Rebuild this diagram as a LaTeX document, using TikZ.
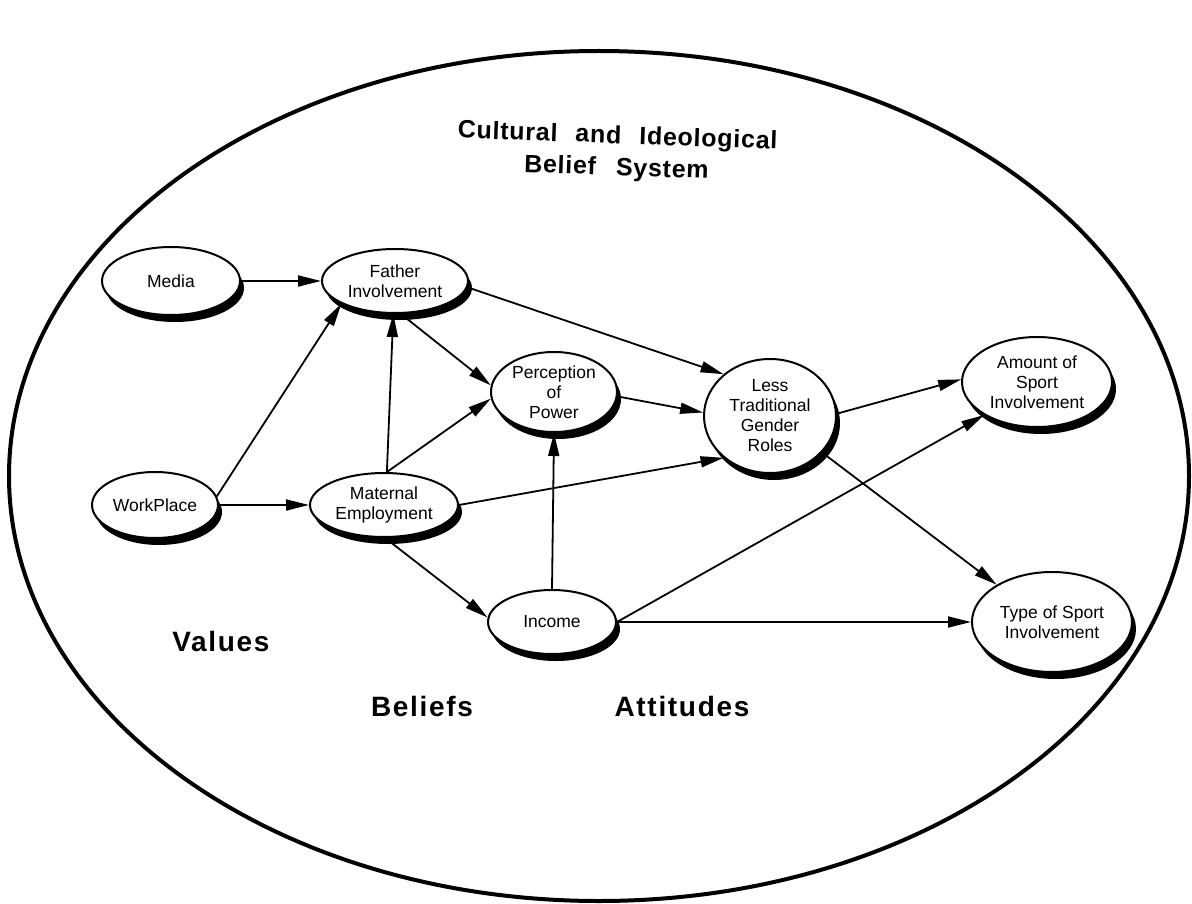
\documentclass[tikz,border=0pt]{standalone}
\usepackage{fontspec}
\setmainfont{Liberation Sans}
\newfontfamily\spacedfont{Liberation Sans}[LetterSpace=6]
\newfontfamily\titlefont{Liberation Sans}[LetterSpace=3]
\usetikzlibrary{shapes.geometric,arrows.meta,shadows}
\begin{document}
\begin{tikzpicture}[x=1pt,y=-1pt,
  nd/.style={ellipse,draw,line width=2pt,fill=white,inner sep=0pt,align=center,
    font=\fontsize{17.5}{20}\selectfont,
    drop shadow={shadow xshift=4pt,shadow yshift=-7pt,fill=black,opacity=1}},
  conn/.style={line width=1.8pt,-{Triangle[length=23pt,width=11pt]}},
  bigl/.style={font=\spacedfont\bfseries\fontsize{28}{32}\selectfont},
  titl/.style={font=\titlefont\bfseries\fontsize{25}{32}\selectfont,align=center},
]
\useasboundingbox (0,0) rectangle (1192,904);
\draw[line width=4pt] (599,476) ellipse [x radius=590pt, y radius=425pt];

\node[titl,rotate=-2] (title) at (617,153) {Cultural\hspace{18pt}and\hspace{18pt}Ideological\\Belief\hspace{20pt}System};

\node[nd,minimum width=138pt,minimum height=68pt] (med) at (171,281) {Media};
\node[nd,minimum width=146pt,minimum height=64pt] (fat) at (395,281) {Father\\Involvement};
\node[nd,minimum width=126pt,minimum height=80pt] (per) at (554,392) {Perception\\of\\Power};
\node[nd,minimum width=132pt,minimum height=114pt] (les) at (770,416) {Less\\Traditional\\Gender\\Roles};
\node[nd,minimum width=150pt,minimum height=90pt] (amt) at (1037,382) {Amount of\\Sport\\Involvement};
\node[nd,minimum width=126pt,minimum height=66pt] (wrk) at (155,505) {WorkPlace};
\node[nd,minimum width=148pt,minimum height=64pt] (mat) at (384,505) {Maternal\\Employment};
\node[nd,minimum width=128pt,minimum height=64pt] (inc) at (552,622) {Income};
\node[nd,minimum width=160pt,minimum height=100pt] (typ) at (1052,622) {Type of Sport\\Involvement};

\node[bigl] (val) at (221,641) {Values};
\node[bigl] (bel) at (422,706) {Beliefs};
\node[bigl] (att) at (682,706) {Attitudes};

\draw[conn] (med.east) -- (fat.west);
\draw[conn] (wrk.8) -- (fat.-157);
\draw[conn] (wrk.east) -- (mat.west);
\draw[conn] (mat.85) -- (fat.-93);
\draw[conn] (mat.85) -- (per.186);
\draw[conn] (fat.-80) -- (per.174);
\draw[conn] (fat.-5) -- (les.138);
\draw[conn] (per.-4) -- (les.177);
\draw[conn] (mat.east) -- (les.222);
\draw[conn] (inc.north) -- (per.south);
\draw[conn] (mat.-88) -- (inc.176);
\draw[conn] (inc.east) -- (amt.212);
\draw[conn] (inc.east) -- (typ.west);
\draw[conn] (les.2) -- (amt.178);
\draw[conn] (les.-35) -- (typ.146);
\end{tikzpicture}
\end{document}
